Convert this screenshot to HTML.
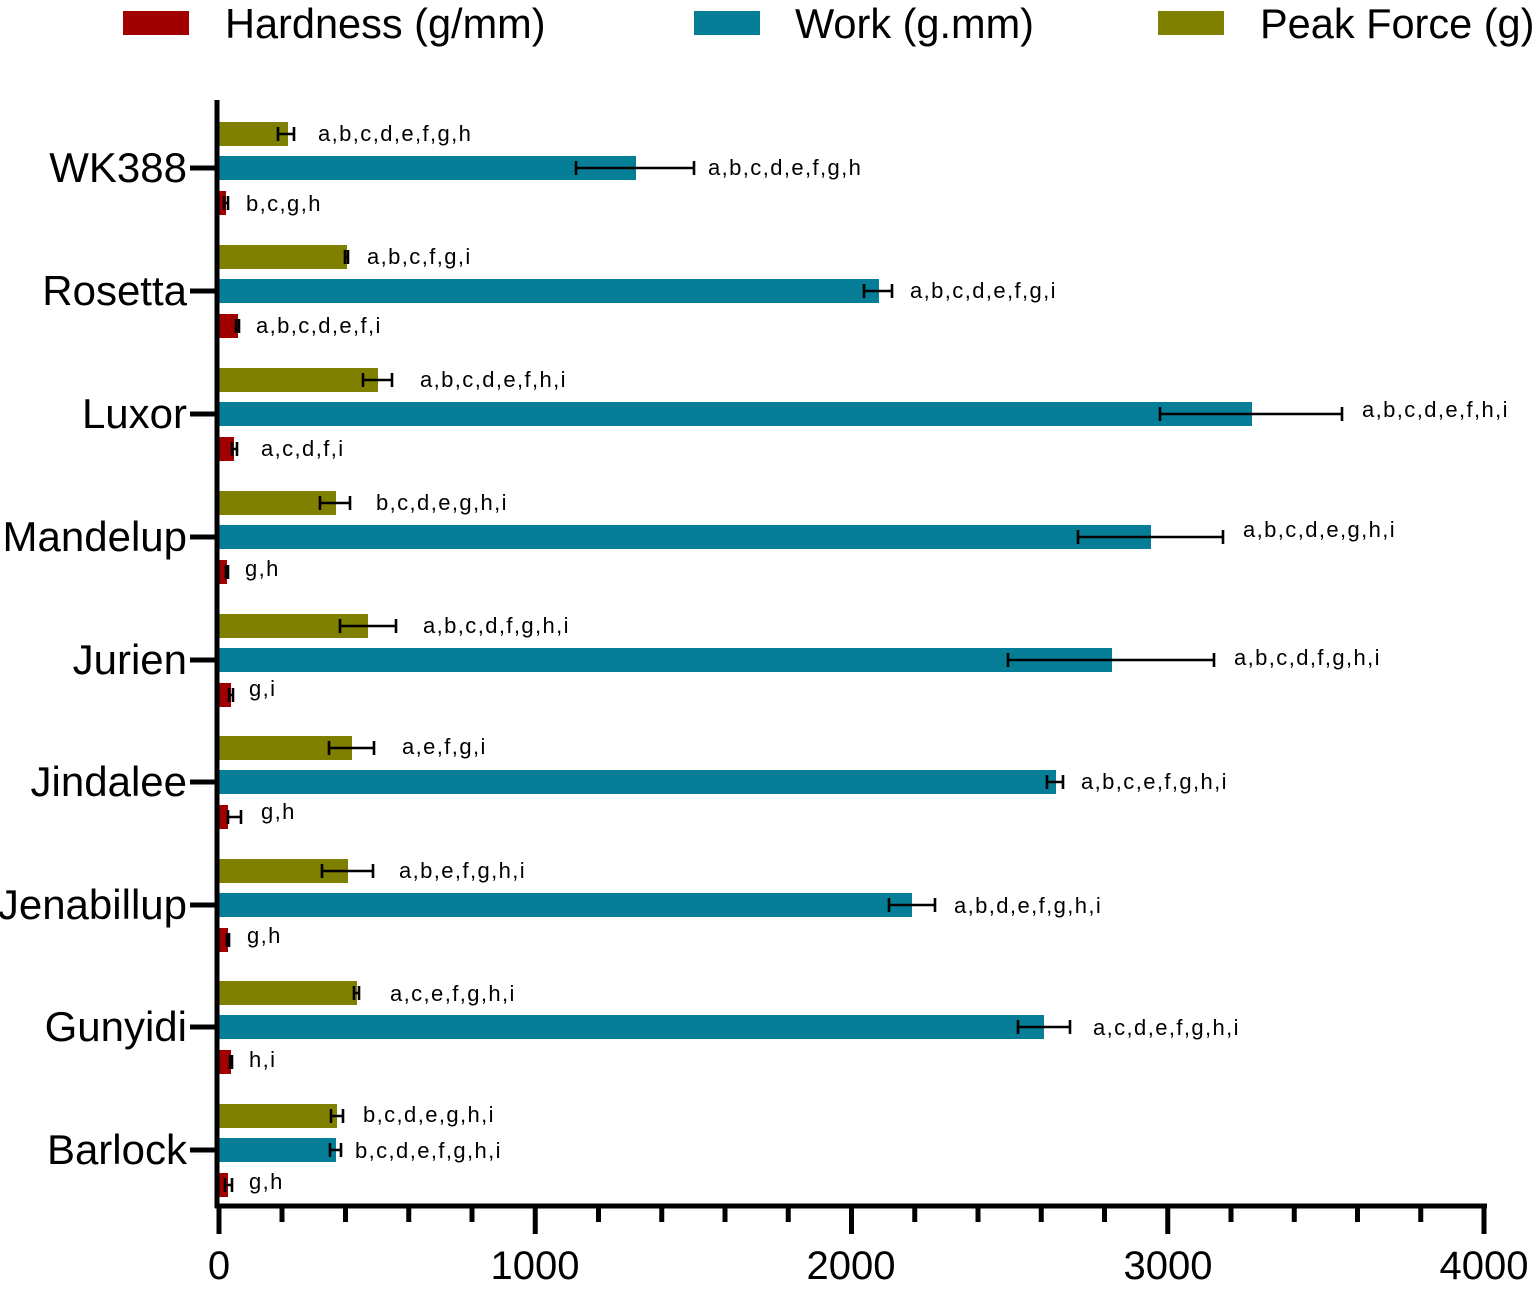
<!DOCTYPE html>
<html><head><meta charset="utf-8"><style>body{margin:0;background:#fff}svg{display:block}</style></head><body>
<svg width="1540" height="1291" xmlns="http://www.w3.org/2000/svg" font-family="Liberation Sans, Arial, sans-serif">
<rect width="1540" height="1291" fill="#fff"/>
<rect x="123" y="11" width="66" height="24" fill="#a00000"/>
<text x="225" y="38" font-size="41.5">Hardness (g/mm)</text>
<rect x="694" y="11" width="66" height="24" fill="#077e97"/>
<text x="795" y="38" font-size="41.5">Work (g.mm)</text>
<rect x="1158" y="11" width="66" height="24" fill="#7f7f00"/>
<text x="1260" y="38" font-size="41.5">Peak Force (g)</text>

<g fill="#7f7f00">
<rect x="219" y="122" width="69" height="24"/>
<rect x="219" y="245" width="128" height="24"/>
<rect x="219" y="368" width="159" height="24"/>
<rect x="219" y="491" width="117" height="24"/>
<rect x="219" y="614" width="149" height="24"/>
<rect x="219" y="736" width="133" height="24"/>
<rect x="219" y="859" width="129" height="24"/>
<rect x="219" y="981" width="138" height="24"/>
<rect x="219" y="1104" width="118" height="24"/>
</g>
<g fill="#077e97">
<rect x="219" y="156" width="417" height="24"/>
<rect x="219" y="279" width="660" height="24"/>
<rect x="219" y="402" width="1033" height="24"/>
<rect x="219" y="525" width="932" height="24"/>
<rect x="219" y="648" width="893" height="24"/>
<rect x="219" y="770" width="837" height="24"/>
<rect x="219" y="893" width="693" height="24"/>
<rect x="219" y="1015" width="825" height="24"/>
<rect x="219" y="1138" width="117" height="24"/>
</g>
<g fill="#a00000">
<rect x="219" y="191" width="7" height="24"/>
<rect x="219" y="314" width="19" height="24"/>
<rect x="219" y="437" width="15" height="24"/>
<rect x="219" y="560" width="8" height="24"/>
<rect x="219" y="683" width="12" height="24"/>
<rect x="219" y="805" width="9" height="24"/>
<rect x="219" y="928" width="9" height="24"/>
<rect x="219" y="1050" width="12" height="24"/>
<rect x="219" y="1173" width="9" height="24"/>
</g>
<g stroke="#000" stroke-width="2.6" fill="none">
<path d="M278 134H294M278 127V141M294 127V141"/>
<path d="M576 168H694M576 161V175M694 161V175"/>
<path d="M224 203H228M224 196V210M228 196V210"/>
<path d="M345 257H348M345 250V264M348 250V264"/>
<path d="M864 291H892M864 284V298M892 284V298"/>
<path d="M236 326H239M236 319V333M239 319V333"/>
<path d="M363 380H392M363 373V387M392 373V387"/>
<path d="M1160 414H1342M1160 407V421M1342 407V421"/>
<path d="M232 449H237M232 442V456M237 442V456"/>
<path d="M320 503H350M320 496V510M350 496V510"/>
<path d="M1078 537H1223M1078 530V544M1223 530V544"/>
<path d="M226 572H228M226 565V579M228 565V579"/>
<path d="M340 626H396M340 619V633M396 619V633"/>
<path d="M1008 660H1214M1008 653V667M1214 653V667"/>
<path d="M229 695H233M229 688V702M233 688V702"/>
<path d="M329 748H374M329 741V755M374 741V755"/>
<path d="M1047 782H1063M1047 775V789M1063 775V789"/>
<path d="M228 817H241M228 810V824M241 810V824"/>
<path d="M322 871H373M322 864V878M373 864V878"/>
<path d="M889 905H935M889 898V912M935 898V912"/>
<path d="M227 940H229M227 933V947M229 933V947"/>
<path d="M354 993H359M354 986V1000M359 986V1000"/>
<path d="M1018 1027H1070M1018 1020V1034M1070 1020V1034"/>
<path d="M230 1062H232M230 1055V1069M232 1055V1069"/>
<path d="M331 1116H343M331 1109V1123M343 1109V1123"/>
<path d="M330 1150H341M330 1143V1157M341 1143V1157"/>
<path d="M225 1185H232M225 1178V1192M232 1178V1192"/>
</g>
<g font-size="22" letter-spacing="1.4">
<text x="318" y="141">a,b,c,d,e,f,g,h</text>
<text x="708" y="175">a,b,c,d,e,f,g,h</text>
<text x="246" y="211">b,c,g,h</text>
<text x="367" y="264">a,b,c,f,g,i</text>
<text x="910" y="298">a,b,c,d,e,f,g,i</text>
<text x="256" y="333">a,b,c,d,e,f,i</text>
<text x="420" y="387">a,b,c,d,e,f,h,i</text>
<text x="1362" y="417">a,b,c,d,e,f,h,i</text>
<text x="261" y="456">a,c,d,f,i</text>
<text x="376" y="510">b,c,d,e,g,h,i</text>
<text x="1243" y="537">a,b,c,d,e,g,h,i</text>
<text x="245" y="576">g,h</text>
<text x="423" y="633">a,b,c,d,f,g,h,i</text>
<text x="1234" y="665">a,b,c,d,f,g,h,i</text>
<text x="249" y="696">g,i</text>
<text x="402" y="754">a,e,f,g,i</text>
<text x="1081" y="789">a,b,c,e,f,g,h,i</text>
<text x="261" y="819">g,h</text>
<text x="399" y="878">a,b,e,f,g,h,i</text>
<text x="954" y="913">a,b,d,e,f,g,h,i</text>
<text x="247" y="943">g,h</text>
<text x="390" y="1001">a,c,e,f,g,h,i</text>
<text x="1093" y="1035">a,c,d,e,f,g,h,i</text>
<text x="249" y="1067">h,i</text>
<text x="363" y="1122">b,c,d,e,g,h,i</text>
<text x="355" y="1158">b,c,d,e,f,g,h,i</text>
<text x="249" y="1189">g,h</text>
</g>
<g stroke="#000" stroke-width="5">
<path d="M190 168H217M190 291H217M190 414H217M190 537H217M190 660H217M190 782H217M190 905H217M190 1027H217M190 1150H217"/>
<path d="M217 100V1208M215 1206H1487"/>
<path d="M219 1206V1234M282 1206V1222M345.5 1206V1222M408.75 1206V1222M472 1206V1222M535.25 1206V1234M598.5 1206V1222M661.75 1206V1222M725 1206V1222M788.25 1206V1222M851.5 1206V1234M914.75 1206V1222M978 1206V1222M1041.25 1206V1222M1104.5 1206V1222M1167.75 1206V1234M1231 1206V1222M1294.25 1206V1222M1357.5 1206V1222M1420.75 1206V1222M1484 1206V1234"/>
</g>
<g font-size="42" text-anchor="end">
<text x="187" y="182">WK388</text>
<text x="187" y="305">Rosetta</text>
<text x="187" y="428">Luxor</text>
<text x="187" y="551">Mandelup</text>
<text x="187" y="674">Jurien</text>
<text x="187" y="796">Jindalee</text>
<text x="187" y="919">Jenabillup</text>
<text x="187" y="1041">Gunyidi</text>
<text x="187" y="1164">Barlock</text>
</g>
<g font-size="40" text-anchor="middle">
<text x="219" y="1279">0</text>
<text x="535" y="1279">1000</text>
<text x="851" y="1279">2000</text>
<text x="1168" y="1279">3000</text>
<text x="1484" y="1279">4000</text>
</g>
</svg>
</body></html>
